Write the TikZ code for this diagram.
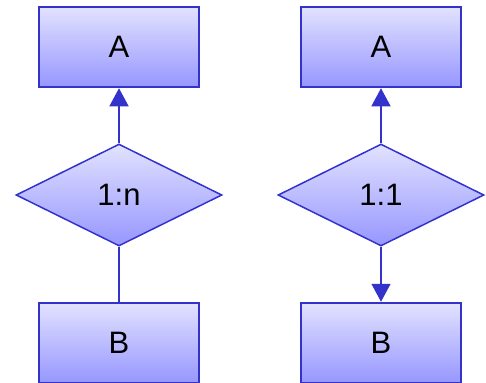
\documentclass[tikz,border=0pt]{standalone}
\usepackage{fontspec}
\setmainfont{Liberation Sans}
\usetikzlibrary{shapes.geometric,arrows.meta}
\definecolor{erline}{RGB}{51,51,204}
\definecolor{ertop}{RGB}{226,226,255}
\definecolor{erbot}{RGB}{150,150,255}
\newcommand{\erfont}{\fontsize{31bp}{36bp}\selectfont}
\tikzset{
  entity/.style={draw=erline,line width=2.5bp,top color=ertop,bottom color=erbot,
    minimum width=160bp,minimum height=80bp,inner sep=0pt,font=\erfont},
  relation/.style={diamond,draw=erline,line width=1.5bp,top color=ertop,bottom color=erbot,
    minimum width=206bp,minimum height=102bp,aspect=2,inner sep=0pt,font=\erfont},
}
\begin{document}
\begin{tikzpicture}[x=1bp,y=-1bp,>={Triangle[length=18bp,width=19bp]},line width=1.5bp]
\useasboundingbox (0,0) rectangle (486,382);
\coordinate (L0) at (119,47);
\coordinate (L1) at (119,195);
\coordinate (L2) at (119,343);
\coordinate (R0) at (381,47);
\coordinate (R1) at (381,195);
\coordinate (R2) at (381,343);

\node[entity] (lA) at (L0) {A};
\node[relation] (lr) at (L1) {1:n};
\node[entity] (lB) at (L2) {B};

\node[entity] (rA) at (R0) {A};
\node[relation] (rr) at (R1) {1:1};
\node[entity] (rB) at (R2) {B};

\draw[erline,->] (lr) -- (lA);
\draw[erline] (lr) -- (lB);

\draw[erline,->] (rr) -- (rA);
\draw[erline,->] (rr) -- (rB);

\end{tikzpicture}
\end{document}
